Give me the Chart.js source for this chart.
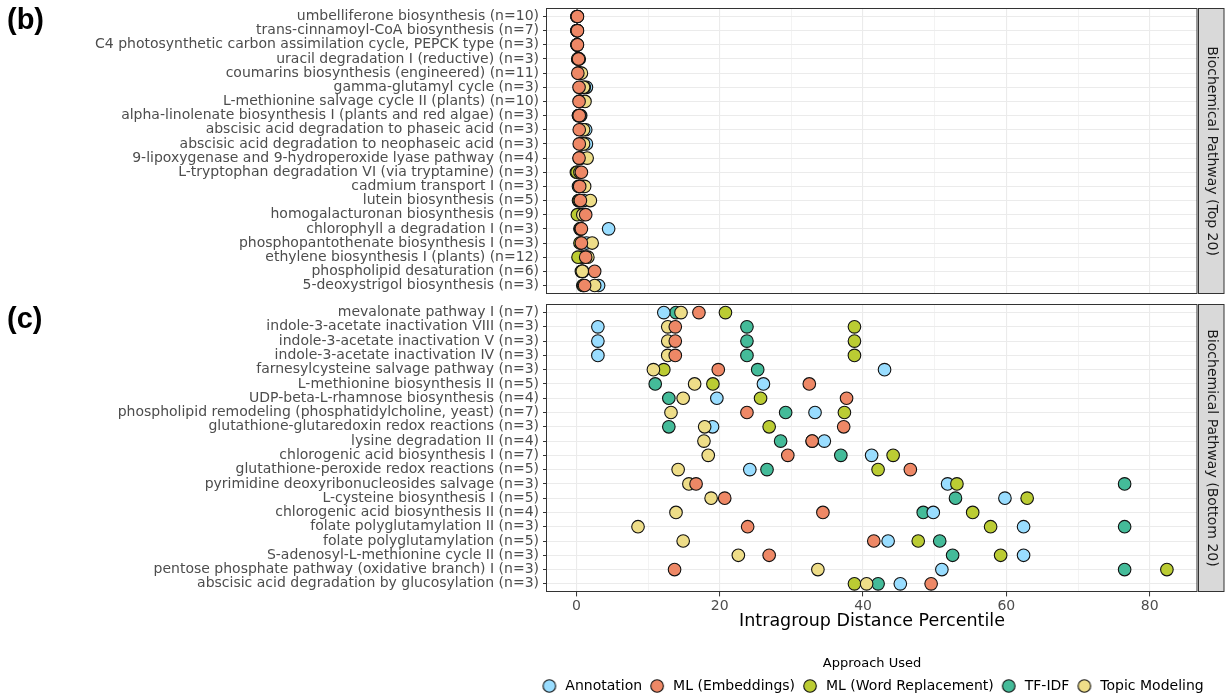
<!DOCTYPE html>
<html><head><meta charset="utf-8">
<script src="https://cdn.jsdelivr.net/npm/chart.js@4.4.1/dist/chart.umd.min.js"></script>
<style>
html,body{margin:0;padding:0;background:#fff;overflow:hidden;width:1225px;height:698px;}
#c1{position:absolute;left:0;top:0;}
#c2{position:absolute;left:0;top:300px;}
</style></head><body>
<canvas id="c1" width="1225" height="300"></canvas>
<canvas id="c2" width="1225" height="405"></canvas>
<script>
const approaches = ['Annotation','ML (Embeddings)','ML (Word Replacement)','TF-IDF','Topic Modeling'];
const approachColors = ['#99DDFF','#EE8866','#BBCC33','#44BB99','#EEDD88'];
const drawOrder = [3, 0, 2, 4, 1];

const topPathways = [
 'umbelliferone biosynthesis (n=10)',
 'trans-cinnamoyl-CoA biosynthesis (n=7)',
 'C4 photosynthetic carbon assimilation cycle, PEPCK type (n=3)',
 'uracil degradation I (reductive) (n=3)',
 'coumarins biosynthesis (engineered) (n=11)',
 'gamma-glutamyl cycle (n=3)',
 'L-methionine salvage cycle II (plants) (n=10)',
 'alpha-linolenate biosynthesis I (plants and red algae) (n=3)',
 'abscisic acid degradation to phaseic acid (n=3)',
 'abscisic acid degradation to neophaseic acid (n=3)',
 '9-lipoxygenase and 9-hydroperoxide lyase pathway (n=4)',
 'L-tryptophan degradation VI (via tryptamine) (n=3)',
 'cadmium transport I (n=3)',
 'lutein biosynthesis (n=5)',
 'homogalacturonan biosynthesis (n=9)',
 'chlorophyll a degradation I (n=3)',
 'phosphopantothenate biosynthesis I (n=3)',
 'ethylene biosynthesis I (plants) (n=12)',
 'phospholipid desaturation (n=6)',
 '5-deoxystrigol biosynthesis (n=3)'
];
const topAnnotation = [0.1,0.1,0.1,0.2,0.5,1.4,0.6,0.5,1.3,1.4,0.6,0.3,0.8,1.0,0.8,4.5,1.4,1.0,0.9,3.1];
const topMLEmbeddings = [0.15,0.15,0.15,0.3,0.2,0.37,0.37,0.4,0.4,0.4,0.37,0.7,0.46,0.56,1.3,0.7,0.7,1.3,2.55,1.15];
const topMLWord = [0.1,0.1,0.1,0.2,0.3,1.1,0.5,0.3,0.8,0.8,0.5,0.1,0.5,0.4,0.14,0.6,0.5,0.23,0.7,1.0];
const topTFIDF = [0.1,0.1,0.1,0.4,0.4,0.6,0.5,0.6,0.6,0.6,0.4,0.0,0.3,0.3,0.7,0.5,0.6,0.7,0.8,0.9];
const topTopic = [0.1,0.1,0.1,0.3,0.7,1.0,1.2,0.3,1.0,1.0,1.5,0.5,1.15,1.95,0.9,0.6,2.2,1.6,0.83,2.55];

const bottomPathways = [
 'mevalonate pathway I (n=7)',
 'indole-3-acetate inactivation VIII (n=3)',
 'indole-3-acetate inactivation V (n=3)',
 'indole-3-acetate inactivation IV (n=3)',
 'farnesylcysteine salvage pathway (n=3)',
 'L-methionine biosynthesis II (n=5)',
 'UDP-beta-L-rhamnose biosynthesis (n=4)',
 'phospholipid remodeling (phosphatidylcholine, yeast) (n=7)',
 'glutathione-glutaredoxin redox reactions (n=3)',
 'lysine degradation II (n=4)',
 'chlorogenic acid biosynthesis I (n=7)',
 'glutathione-peroxide redox reactions (n=5)',
 'pyrimidine deoxyribonucleosides salvage (n=3)',
 'L-cysteine biosynthesis I (n=5)',
 'chlorogenic acid biosynthesis II (n=4)',
 'folate polyglutamylation II (n=3)',
 'folate polyglutamylation (n=5)',
 'S-adenosyl-L-methionine cycle II (n=3)',
 'pentose phosphate pathway (oxidative branch) I (n=3)',
 'abscisic acid degradation by glucosylation (n=3)'
];
const bottomAnnotation = [12.2,3.0,3.0,3.0,43.0,26.1,19.6,33.3,19.0,34.6,41.2,24.2,51.8,59.8,49.8,62.4,43.5,62.4,51.0,45.2];
const bottomMLEmbeddings = [17.1,13.8,13.8,13.8,19.8,32.5,37.7,23.8,37.3,32.9,29.5,46.6,16.7,20.7,34.4,23.9,41.5,26.9,13.7,49.5];
const bottomMLWord = [20.8,38.8,38.8,38.8,12.2,19.05,25.7,37.4,26.9,32.9,44.2,42.1,53.1,62.9,55.3,57.8,47.7,59.2,82.4,38.8];
const bottomTFIDF = [13.9,23.8,23.8,23.8,25.3,11.0,12.9,29.2,12.9,28.5,36.9,26.6,76.5,52.9,48.4,76.5,50.7,52.5,76.5,42.1];
const bottomTopic = [14.6,12.75,12.75,12.75,10.75,16.5,14.9,13.2,17.9,17.8,18.4,14.2,15.7,18.8,13.9,8.6,14.9,22.6,33.7,40.5];

const xTickValues = [0,10,20,30,40,50,60,70,80];
const xMin = -4.1, xMax = 86.6;

const FONT = "'DejaVu Sans', sans-serif";
const PT_R = 6.3, PT_BW = 1.1, PT_EDGE = '#111111';

function makeDatasets(seriesList) {
  return seriesList.map((vals, k) => ({
    label: approaches[k],
    data: vals.map((v, i) => ({x: v, y: i})),
    backgroundColor: approachColors[k],
    borderColor: PT_EDGE,
    borderWidth: PT_BW,
    pointRadius: PT_R,
    pointHoverRadius: PT_R,
    order: drawOrder[k]
  }));
}

function legendDot(color) {
  const c = document.createElement('canvas');
  c.width = 16; c.height = 16;
  const g = c.getContext('2d');
  g.beginPath();
  g.arc(8, 8, PT_R, 0, Math.PI * 2);
  g.fillStyle = color; g.fill();
  g.lineWidth = PT_BW; g.strokeStyle = PT_EDGE; g.stroke();
  return c;
}

function framePlugin(panelLabel, stripText, labelBaseline) {
  return {
    id: 'frame',
    beforeDraw(chart) {
      // centre the legend under the panel (ggplot centres it on the panel)
      const lg = chart.legend;
      if (lg && lg.options && lg.options.display) {
        const a = chart.chartArea, cx = (a.left + a.right) / 2, half = 600;
        lg.left = cx - half; lg.right = cx + half; lg.width = 2 * half;
      }
    },
    afterDraw(chart) {
      const ctx = chart.ctx, a = chart.chartArea;
      const top = Math.round(a.top) + 0.5, bot = Math.round(a.bottom) - 0.5;
      ctx.save();
      ctx.strokeStyle = '#333333';
      ctx.lineWidth = 1;
      ctx.strokeRect(Math.round(a.left) - 0.5, top, Math.round(a.right - a.left) + 0.5, bot - top);
      const sx = Math.round(a.right) + 1.5, sw = 1224 - sx;
      ctx.fillStyle = '#d9d9d9';
      ctx.fillRect(sx, top, sw, bot - top);
      ctx.strokeStyle = '#333333';
      ctx.strokeRect(sx, top, sw, bot - top);
      ctx.translate(sx + sw / 2, (top + bot) / 2);
      ctx.rotate(Math.PI / 2);
      ctx.fillStyle = '#1a1a1a';
      ctx.font = "14px " + FONT;
      ctx.textAlign = 'center';
      ctx.textBaseline = 'middle';
      ctx.fillText(stripText, 0, 0);
      ctx.restore();
      ctx.save();
      ctx.fillStyle = '#000';
      ctx.font = "bold 29px 'Liberation Sans', Arial, sans-serif";
      ctx.textAlign = 'left';
      ctx.textBaseline = 'alphabetic';
      ctx.fillText(panelLabel, 7, labelBaseline);
      ctx.restore();
    }
  };
}

function yScale(labels) {
  return {
    type: 'linear',
    reverse: true,
    min: -0.6,
    max: labels.length - 0.4,
    afterBuildTicks(s) { s.ticks = labels.map((_, i) => ({value: i})); },
    afterFit(s) { s.width = 547; s.paddingTop = 0; s.paddingBottom = 0; },
    ticks: {
      autoSkip: false,
      padding: 4,
      color: '#4d4d4d',
      font: {family: FONT, size: 14},
      callback: (v) => labels[v]
    },
    grid: {
      color: '#ebebeb',
      lineWidth: 1,
      drawTicks: true,
      tickLength: 4,
      tickColor: '#333333',
      tickWidth: 1
    },
    border: {display: false}
  };
}

function xScale(showAxis) {
  const s = {
    type: 'linear',
    min: xMin,
    max: xMax,
    afterBuildTicks(sc) { sc.ticks = xTickValues.map(v => ({value: v})); },
    grid: {
      color: '#ebebeb',
      lineWidth: (c) => (c.tick && c.tick.value % 20 === 0) ? 1.1 : 0.6,
      drawTicks: showAxis,
      tickLength: 4,
      tickWidth: 1,
      tickColor: (c) => (c.tick && c.tick.value % 20 === 0) ? '#333333' : 'rgba(0,0,0,0)'
    },
    border: {display: false},
    ticks: {
      display: showAxis,
      autoSkip: false,
      maxRotation: 0,
      padding: 2,
      color: '#4d4d4d',
      font: {family: FONT, size: 14},
      callback: (v) => (v % 20 === 0 ? String(v) : '')
    }
  };
  if (!showAxis) {
    s.afterFit = (sc) => { sc.height = 0; sc.paddingLeft = 0; sc.paddingRight = 0; };
  } else {
    s.afterFit = (sc) => { sc.height = 40; sc.paddingLeft = 0; sc.paddingRight = 0; };
    s.title = {
      display: true,
      text: 'Intragroup Distance Percentile',
      color: '#000',
      font: {family: FONT, size: 17.5},
      padding: {top: 0, bottom: 0}
    };
  }
  return s;
}

Chart.defaults.font.family = FONT;

new Chart(document.getElementById('c1'), {
  type: 'scatter',
  data: {datasets: makeDatasets([topAnnotation, topMLEmbeddings, topMLWord, topTFIDF, topTopic])},
  options: {
    responsive: false,
    animation: false,
    layout: {autoPadding: false, padding: {top: 8, bottom: 6, left: 0, right: 28}},
    scales: {x: xScale(false), y: yScale(topPathways)},
    plugins: {legend: {display: false}, tooltip: {enabled: false}}
  },
  plugins: [framePlugin('(b)', 'Biochemical Pathway (Top 20)', 29)]
});

new Chart(document.getElementById('c2'), {
  type: 'scatter',
  data: {datasets: makeDatasets([bottomAnnotation, bottomMLEmbeddings, bottomMLWord, bottomTFIDF, bottomTopic])},
  options: {
    responsive: false,
    animation: false,
    layout: {autoPadding: false, padding: {top: 4, bottom: 2, left: 0, right: 28}},
    scales: {x: xScale(true), y: yScale(bottomPathways)},
    plugins: {
      tooltip: {enabled: false},
      legend: {
        display: true,
        position: 'bottom',
        fullSize: true,
        align: 'center',
        title: {display: true, text: 'Approach Used', color: '#000', font: {family: FONT, size: 13}, padding: {top: 25, bottom: 0}},
        labels: {
          usePointStyle: true,
          pointStyleWidth: 18,
          boxWidth: 18,
          boxHeight: 14,
          padding: 6,
          color: '#000',
          font: {family: FONT, size: 14},
          sort: (a, b) => a.datasetIndex - b.datasetIndex,
          generateLabels(chart) {
            const items = Chart.defaults.plugins.legend.labels.generateLabels(chart);
            items.forEach(it => { it.pointStyle = legendDot(approachColors[it.datasetIndex]); });
            return items;
          }
        }
      }
    }
  },
  plugins: [framePlugin('(c)', 'Biochemical Pathway (Bottom 20)', 328 - 300)]
});
</script>
</body></html>
